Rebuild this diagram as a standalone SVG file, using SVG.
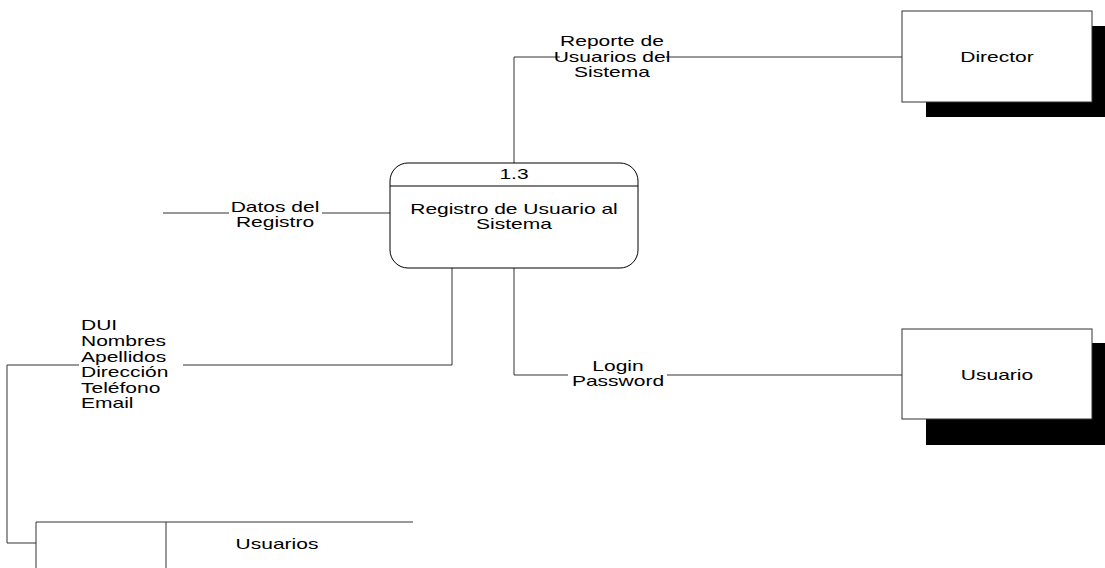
<svg xmlns="http://www.w3.org/2000/svg" width="1105" height="568" viewBox="0 0 1105 568">
<style>
.t{font-family:"Liberation Sans",Arial,sans-serif;font-size:14px;fill:#000}
.c{text-anchor:middle}
.ln{fill:none;stroke:#333;stroke-width:1}
.bx{fill:#fff;stroke:#333;stroke-width:1}
.sh{fill:#000}
.bg{fill:#fff}
</style>
<rect width="1105" height="568" fill="#fff"/>
<g id="connectors">
<polyline class="ln" points="514,163 514,57 902,57"/>
<line class="ln" x1="163" y1="213" x2="390" y2="213"/>
<polyline class="ln" points="452,268 452,365 7,365 7,543 36,543"/>
<polyline class="ln" points="514,268 514,375 902,375"/>
<rect class="bg" x="560" y="33" width="106" height="48"/>
<rect class="bg" x="229" y="199" width="93" height="32"/>
<rect class="bg" x="79" y="317" width="104" height="94"/>
<rect class="bg" x="568" y="357" width="99" height="32"/>
<text class="t c" transform="translate(612,46) scale(1.5,1)">Reporte de</text>
<text class="t c" transform="translate(612,62) scale(1.5,1)">Usuarios del</text>
<text class="t c" transform="translate(612,77) scale(1.5,1)">Sistema</text>
<text class="t c" transform="translate(275,212) scale(1.5,1)">Datos del</text>
<text class="t c" transform="translate(275,227) scale(1.5,1)">Registro</text>
<text class="t" transform="translate(81,330) scale(1.5,1)">DUI</text>
<text class="t" transform="translate(81,346) scale(1.5,1)">Nombres</text>
<text class="t" transform="translate(81,362) scale(1.5,1)">Apellidos</text>
<text class="t" transform="translate(81,377) scale(1.5,1)">Dirección</text>
<text class="t" transform="translate(81,393) scale(1.5,1)">Teléfono</text>
<text class="t" transform="translate(81,408) scale(1.5,1)">Email</text>
<text class="t c" transform="translate(618,371) scale(1.5,1)">Login</text>
<text class="t c" transform="translate(618,386) scale(1.5,1)">Password</text>
</g>
<g id="process-1-3">
<rect class="bx" x="390" y="163" width="248" height="105" rx="18" ry="18" style="stroke:#000"/>
<line x1="390" y1="186" x2="638" y2="186" stroke="#000" stroke-width="1"/>
<text class="t c" transform="translate(514,179) scale(1.5,1)">1.3</text>
<text class="t c" transform="translate(514,214) scale(1.5,1)">Registro de Usuario al</text>
<text class="t c" transform="translate(514,229) scale(1.5,1)">Sistema</text>
</g>
<g id="director">
<rect class="sh" x="926" y="26" width="179" height="91"/>
<rect class="bx" x="902" y="11" width="190" height="91"/>
<text class="t c" transform="translate(997,62) scale(1.5,1)">Director</text>
</g>
<g id="usuario">
<rect class="sh" x="926" y="343" width="179" height="102"/>
<rect class="bx" x="902" y="329" width="190" height="90"/>
<text class="t c" transform="translate(997,380) scale(1.5,1)">Usuario</text>
</g>
<g id="store-usuarios">
<polyline class="ln" points="36,568 36,522 413,522"/>
<line class="ln" x1="166" y1="522" x2="166" y2="568"/>
<text class="t c" transform="translate(277,549) scale(1.5,1)">Usuarios</text>
</g>
</svg>
